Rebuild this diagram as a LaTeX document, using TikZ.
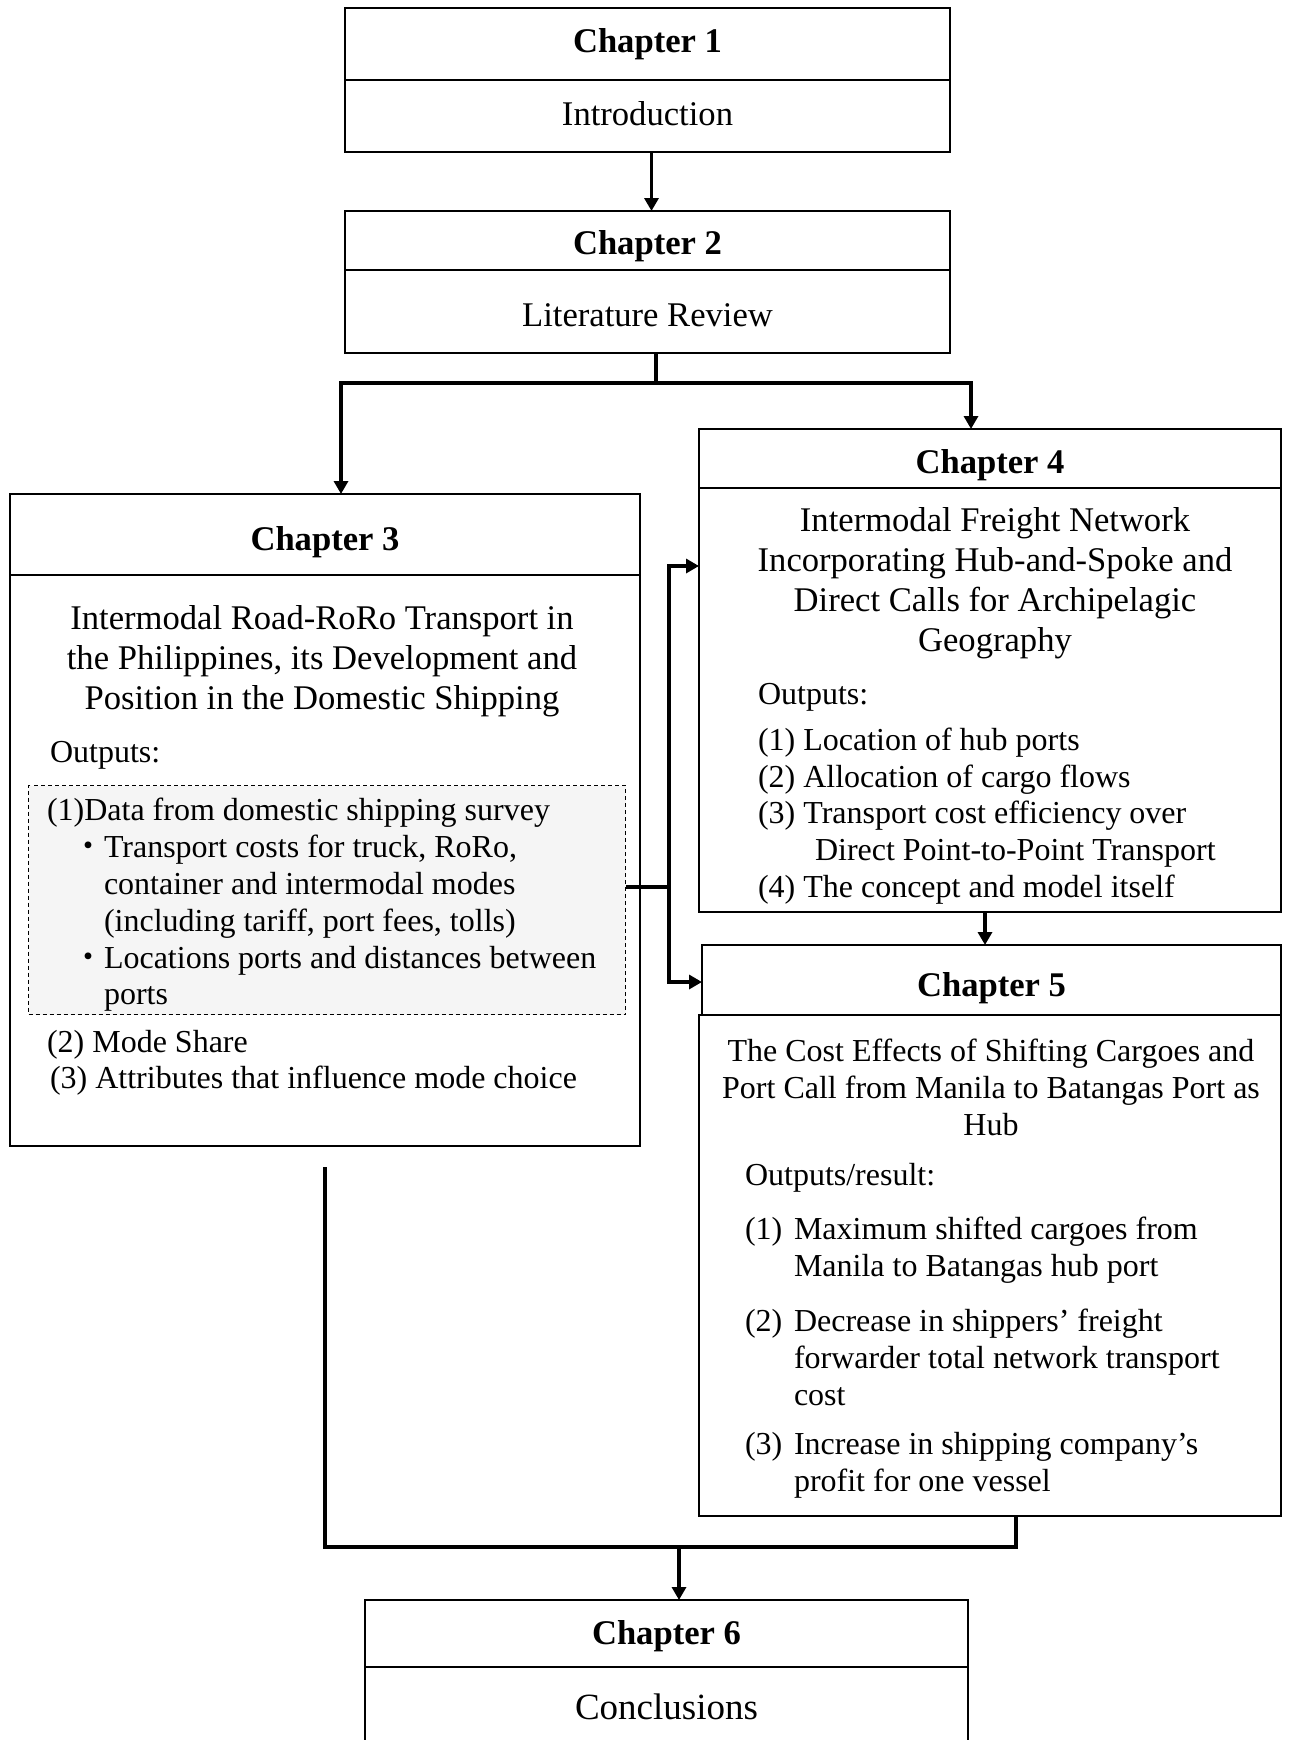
\documentclass[tikz,border=0pt]{standalone}
\usepackage{fontspec}
\setmainfont{Liberation Serif}
\newfontfamily\cjkjp{Noto Sans CJK JP}
\usetikzlibrary{arrows.meta}
\newcommand\ChHdrFont{\fontsize{17.3}{20}\selectfont\bfseries}
\newcommand\ChBigFont{\fontsize{17.3}{20}\selectfont}
\newcommand\ChSmFont{\fontsize{16}{18.4}\selectfont}
\newcommand\ChItFont{\fontsize{16}{18.5}\selectfont}
\newcommand\ChConcFont{\fontsize{18.5}{22}\selectfont}
\begin{document}
\begin{tikzpicture}[x=0.5pt,y=-0.5pt,
  box/.style={draw, line width=0.6pt, inner sep=0pt, outer sep=0pt, anchor=north west},
  hdr/.style={box, font=\ChHdrFont, text depth=3.8pt},
  txt/.style={inner sep=0pt, outer sep=0pt},
  conn/.style={line width=1.7pt},
  arr/.style={conn, -{Triangle[length=6.5pt,width=7pt]}},
  dbox/.style={draw, dashed, dash pattern=on 2pt off 1.5pt, line width=0.5pt, fill=black!4, inner sep=0pt, anchor=north west}]
\useasboundingbox (0,0) rectangle (1289,1740);
\clip (0,0) rectangle (1289,1740);
\fill[white] (0,0) rectangle (1289,1740);

% Chapter 1
\node[hdr, text height=11.8pt, minimum width=302.5pt, minimum height=36pt] (c1h) at (345,8) {Chapter 1};
\node[box, font=\ChBigFont, text height=9.6pt, text depth=0pt, minimum width=302.5pt, minimum height=36pt] (c1b) at (345,80) {Introduction};

% Chapter 2
\node[hdr, text height=17.3pt, minimum width=302.5pt, minimum height=29.5pt] (c2h) at (345,211) {Chapter 2};
\node[box, font=\ChBigFont, text height=15.1pt, text depth=0pt, minimum width=302.5pt, minimum height=41.5pt] (c2b) at (345,270) {Literature Review};

% Chapter 3
\node[hdr, text height=19.6pt, minimum width=315pt, minimum height=40.5pt] (c3h) at (10,494) {Chapter 3};
\node[box, minimum width=315pt, minimum height=285.5pt] (c3b) at (10,575) {};
\node[txt, font=\ChBigFont, align=center] (c3t) at (322,661) {Intermodal Road-RoRo Transport in\\the Philippines, its Development and\\Position in the Domestic Shipping};
\node[txt, font=\ChSmFont, anchor=west] (c3o) at (50,755) {Outputs:};
\node[dbox, minimum width=298.5pt, minimum height=114.5pt] (dbx) at (28,785) {};
\node[txt, font=\ChSmFont, align=left, anchor=west] (c3l1) at (47,905) {(1)Data from domestic shipping survey\\
\hspace*{12.5pt}{\cjkjp ・}Transport costs for truck, RoRo,\\
\hspace*{28.5pt}container and intermodal modes\\
\hspace*{28.5pt}(including tariff, port fees, tolls)\\
\hspace*{12.5pt}{\cjkjp ・}Locations ports and distances between\\
\hspace*{28.5pt}ports};
\node[txt, font=\ChSmFont, anchor=west] (c3l2) at (47,1045) {(2) Mode Share};
\node[txt, font=\ChSmFont, anchor=west] (c3l3) at (50,1081) {(3) Attributes that influence mode choice};

% Chapter 4
\node[hdr, text height=18.4pt, minimum width=291pt, minimum height=29.5pt] (c4h) at (699,429) {Chapter 4};
\node[box, minimum width=291pt, minimum height=212pt] (c4b) at (699,488) {};
\node[txt, font=\ChBigFont, align=center] (c4t) at (995,583) {Intermodal Freight Network\\Incorporating Hub-and-Spoke and\\Direct Calls for Archipelagic\\Geography};
\node[txt, font=\ChSmFont, anchor=west] (c4o) at (758,697) {Outputs:};
\node[txt, font=\ChSmFont, align=left, anchor=west] (c4l) at (758,816) {(1) Location of hub ports\\
(2) Allocation of cargo flows\\
(3) Transport cost efficiency over\\
\hspace*{28.5pt}Direct Point-to-Point Transport\\
(4) The concept and model itself};

% Chapter 5
\node[hdr, text height=20.6pt, minimum width=289.5pt, minimum height=35pt] (c5h) at (702,945) {Chapter 5};
\node[box, minimum width=291pt, minimum height=250.5pt] (c5b) at (699,1015) {};
\node[txt, font=\ChItFont, align=center] (c5t) at (991,1087) {The Cost Effects of Shifting Cargoes and\\Port Call from Manila to Batangas Port as\\Hub};
\node[txt, font=\ChSmFont, anchor=west] (c5o) at (745,1178) {Outputs/result:};
\node[txt, font=\ChItFont, align=left, anchor=west] (c5i1) at (745,1250.5) {\makebox[24.5pt][l]{(1)}Maximum shifted cargoes from\\\hspace*{24.5pt}Manila to Batangas hub port};
\node[txt, font=\ChItFont, align=left, anchor=west] (c5i2) at (745,1357.5) {\makebox[24.5pt][l]{(2)}Decrease in shippers’ freight\\\hspace*{24.5pt}forwarder total network transport\\\hspace*{24.5pt}cost};
\node[txt, font=\ChItFont, align=left, anchor=west] (c5i3) at (745,1465.5) {\makebox[24.5pt][l]{(3)}Increase in shipping company’s\\\hspace*{24.5pt}profit for one vessel};

% Chapter 6
\node[hdr, text height=15.2pt, minimum width=301.5pt, minimum height=33.5pt] (c6h) at (365,1600) {Chapter 6};
\node[box, font=\ChConcFont, minimum width=301.5pt, minimum height=40pt] (c6b) at (365,1667) {Conclusions};

% junction coordinates
\coordinate (j2) at (656,383);
\coordinate (js) at (669,887);
\coordinate (s1) at (669,566);
\coordinate (s2) at (669,982);
\coordinate (jb) at (679,1547);

% connectors
\draw[arr] ([xshift=2pt]c1b.south) -- ([xshift=2pt]c1b.south |- c2h.north);
\draw[conn] (c2b.south -| j2) -- (j2);
\draw[arr] (j2) -| ([xshift=8pt]c3h.north);
\draw[arr] (j2) -| ([xshift=-9.5pt]c4h.north);
\draw[conn] (dbx.east |- js) -- (js);
\draw[arr] (js) -- (s1) -- (s1 -| c4b.west);
\draw[arr] (js) -- (s2) -- (s2 -| c5h.west);
\draw[arr] ([xshift=-2.5pt]c4b.south) -- ([xshift=-2.5pt]c4b.south |- c5h.north);
\draw[conn] ([yshift=-10.5pt]c3b.south) |- (jb);
\draw[conn] ([xshift=13pt]c5b.south) |- (jb);
\draw[arr] (jb) -- (jb |- c6h.north);
\end{tikzpicture}
\end{document}
